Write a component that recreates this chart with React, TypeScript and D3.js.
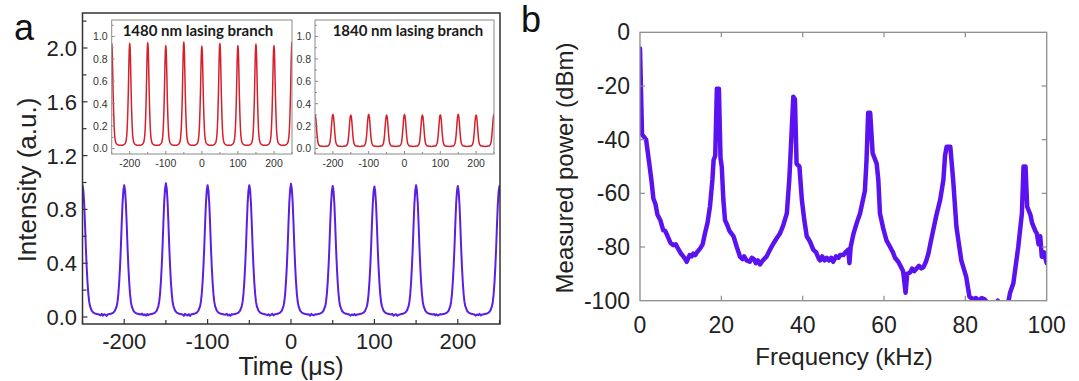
import React from "react";
import * as d3 from "d3";

// ---------- Panel a data ----------
const timeTicks = [-200, -100, 0, 100, 200];
const timeMinorTicks = [-250, -150, -50, 50, 150, 250];
const intensityTicks = [0, 0.4, 0.8, 1.2, 1.6, 2.0];
const intensityMinorTicks = [0.2, 0.6, 1.0, 1.4, 1.8, 2.2];
const insetYTicks = [0, 0.2, 0.4, 0.6, 0.8, 1.0];

const pulseCenters = [-250, -200, -150, -100, -50, 0, 50, 100, 150, 200, 250];
const mainPeakHeights = [0.98, 0.98, 0.994, 0.98, 0.98, 0.99, 0.974, 0.97, 0.98, 0.974, 0.974];
const inset1480Heights = [0.94, 0.94, 0.947, 0.92, 0.95, 0.915, 0.94, 0.92, 0.934, 0.92, 0.95];
const inset1840Heights = [0.3, 0.305, 0.3, 0.305, 0.3, 0.305, 0.3, 0.302, 0.305, 0.3, 0.305];

// pulse profile (offset in µs -> fraction of peak above baseline)
const pulseOffsets = [-20, -16, -13, -11, -9, -8, -7, -6, -5, -4, -3, -2, -1, 0, 1, 2, 3, 4, 5, 6, 7, 8, 9, 11, 13, 16, 20];
const mainPulseShape = [0, 0.006, 0.015, 0.03, 0.065, 0.1, 0.16, 0.25, 0.37, 0.52, 0.7, 0.86, 0.96, 1, 0.96, 0.86, 0.7, 0.52, 0.37, 0.25, 0.16, 0.1, 0.065, 0.03, 0.015, 0.006, 0];
const inset1480Shape = [0, 0.006, 0.015, 0.03, 0.07, 0.11, 0.17, 0.26, 0.37, 0.51, 0.68, 0.85, 0.96, 1, 0.96, 0.85, 0.68, 0.51, 0.37, 0.26, 0.17, 0.11, 0.07, 0.03, 0.015, 0.006, 0];
const inset1840Shape = [0, 0.005, 0.015, 0.04, 0.09, 0.14, 0.22, 0.33, 0.47, 0.62, 0.78, 0.9, 0.97, 1, 0.97, 0.9, 0.78, 0.62, 0.47, 0.33, 0.22, 0.14, 0.09, 0.04, 0.015, 0.005, 0];

const gapOffsets = [21.5, 23, 24.5, 26, 27.5, 29];
const mainBaseline = 0.018;
const mainBaselineNoise = [0.012, 0.024, 0.01, 0.021, 0.016, 0.008, 0.025, 0.013, 0.02, 0.01, 0.022, 0.014, 0.009, 0.024, 0.015, 0.011, 0.021, 0.008, 0.017, 0.023, 0.011, 0.019, 0.009, 0.022, 0.014, 0.021, 0.01, 0.016, 0.024, 0.011, 0.02, 0.009, 0.023, 0.015, 0.012, 0.021, 0.01, 0.019, 0.013, 0.022, 0.012, 0.018, 0.024, 0.01, 0.017, 0.021, 0.009, 0.015, 0.023, 0.012, 0.02, 0.011, 0.016, 0.022, 0.01, 0.019, 0.013, 0.024, 0.011, 0.018];
const inset1480Baseline = [0.03, 0.029, 0.028, 0.028, 0.029, 0.03];
const inset1840Baseline = [0.02, 0.019, 0.018, 0.018, 0.019, 0.02];

// ---------- Panel b data ----------
const freqTicks = [0, 20, 40, 60, 80, 100];
const powerTicks = [0, -20, -40, -60, -80, -100];
const freqKHz = [
  0, 0.5, 1.5, 2.2, 2.8, 3.3, 3.8, 4.3, 5, 5.7, 6.2, 6.8, 7.5, 8.2, 8.8, 9.5, 10.1, 10.7, 11.1, 11.5, 11.9, 12.2, 12.7, 13.1, 13.6, 14, 14.8, 15.4, 16, 16.6, 17.2,
  17.8, 18.1, 18.5, 18.9, 19.4, 19.8, 20.1, 20.5,
  20.9, 21.5, 22, 23, 23.8, 24.6, 25.2, 25.6, 26.2, 27, 27.5, 28, 28.5, 29, 29.5, 30.2, 31.1, 31.8, 32.3, 32.8, 33.5, 34.4, 35.2, 36.1,
  36.7, 37, 37.7, 38.1, 38.5, 39.2, 39.8,
  40.4, 41, 41.8, 42.6, 43.3, 44, 44.3, 44.8, 45.4, 45.9, 46.5, 47, 47.5, 48.2, 48.8, 49.2, 50, 50.5, 51.2, 51.5, 51.8, 52.5, 53.3, 54.1, 55.3,
  55.7, 56.1, 56.6, 57.2, 58.2, 58.6,
  59, 59.8, 60.6, 61.5, 62.2, 62.7, 63.5, 64.2, 64.7, 65.3, 65.7, 66.4, 66.9, 67.4, 68, 68.6, 69.2, 69.7, 70.3, 70.9, 71.5, 72.1, 72.9, 73.8, 74.6,
  75, 75.4, 76.3, 77, 77.8, 79, 80.2, 81, 81.9, 82.6, 83.3, 84, 84.7, 85.3, 86.5, 88, 89, 90.5, 91, 91.8, 93, 93.9,
  94.3, 94.8, 95.2, 96, 96.4, 97.2, 97.6, 98, 98.4, 98.8, 99.3, 100,
];
const powerDBm = [
  -6, -38, -40, -48, -55, -62, -64, -68, -70, -73.7, -74, -76, -78.5, -79.3, -79, -81, -82.5, -83.6, -84.5, -85.5, -84, -83, -83.5, -82.5, -83, -82, -80.5, -79, -74.8, -71, -65,
  -55, -47.6, -46, -21, -21, -47, -50, -62.5,
  -70, -72, -74, -76, -80, -83.6, -84.5, -83.5, -85, -85.5, -84, -84.5, -86, -85, -86.5, -85, -83.6, -81.5, -80, -78.7, -77, -75, -72, -67.5,
  -55, -46, -24, -25, -49, -50, -62.5,
  -70, -76, -78, -81, -82, -84.5, -85, -83.5, -85, -84, -85, -84, -85.5, -83.5, -84, -83, -83, -82, -81, -86, -80, -75, -71, -67.5, -59,
  -47.6, -30, -30, -45, -49, -55,
  -67.5, -73, -77.5, -80, -82, -84, -85.5, -87.5, -89, -97, -90, -89.5, -88, -89, -88, -87, -88, -87.5, -85.5, -82.5, -78, -73.7, -68, -62.5, -55,
  -46, -42.6, -42.6, -55, -72.4, -85, -91, -98.5, -99.5, -99, -100, -99, -99.5, -100.5, -104, -100, -104, -101, -97, -93.5, -80, -67.5,
  -50, -50, -65, -68, -71, -74, -75, -79, -76, -83.6, -82, -86,
];

// ---------- helpers ----------
function pulseTrain(heights: number[], shape: number[], base: number, noise: number[]) {
  const pts: [number, number][] = [];
  pulseCenters.forEach((c, i) => {
    pulseOffsets.forEach((o, j) => pts.push([c + o, base + (heights[i] - base) * shape[j]]));
    if (i < pulseCenters.length - 1) {
      gapOffsets.forEach((g, k) => pts.push([c + g, noise[(i * gapOffsets.length + k) % noise.length]]));
    }
  });
  return pts;
}

const FONT = "'Liberation Sans', Arial, Helvetica, sans-serif";

const W = 1079;
const H = 381;

// panel a geometry
const A = { left: 82.5, right: 500, top: 13, bottom: 324 };
const xA = d3.scaleLinear().domain([-250, 250]).range([82.5, 499.5]);
const yA = d3.scaleLinear().domain([0, 2]).range([317, 48]);

const I1 = { left: 111.7, right: 292, top: 20, bottom: 154, cx: 198 };
const I2 = { left: 315, right: 494, top: 20, bottom: 154, cx: 408 };
const xI1 = d3.scaleLinear().domain([-250, 250]).range([I1.left, I1.right]);
const xI2 = d3.scaleLinear().domain([-250, 250]).range([I2.left, I2.right]);
const yI = d3.scaleLinear().domain([0, 1]).range([148.5, 36.5]);

// panel b geometry
const B = { left: 640, right: 1046.7, top: 32.3, bottom: 300.7 };
const xB = d3.scaleLinear().domain([0, 100]).range([B.left, B.right]);
const yB = d3.scaleLinear().domain([-100, 0]).range([B.bottom, B.top]);

function Inset({ xs, box, data, title, id }: any) {
  const line = d3.line<[number, number]>().x((d) => xs(d[0])).y((d) => yI(d[1])).curve(d3.curveMonotoneX);
  const minorY = [0.1, 0.3, 0.5, 0.7, 0.9, 1.1];
  return (
    <g>
      <rect x={box.left} y={box.top} width={box.right - box.left} height={box.bottom - box.top} fill="#fff" />
      <clipPath id={id}>
        <rect x={box.left} y={box.top} width={box.right - box.left} height={box.bottom - box.top} />
      </clipPath>
      <path d={line(data) || ""} fill="none" stroke="#d4202a" strokeWidth={1.5} clipPath={`url(#${id})`} />
      <rect x={box.left} y={box.top} width={box.right - box.left} height={box.bottom - box.top} fill="none" stroke="#8a8a8a" strokeWidth={1} />
      {insetYTicks.map((v) => (
        <g key={"y" + v}>
          <line x1={box.left} x2={box.left + 3} y1={yI(v)} y2={yI(v)} stroke="#8a8a8a" />
          <text x={box.left - 4} y={yI(v) + 3.8} fontSize={10.5} textAnchor="end" fill="#333" fontFamily={FONT}>
            {d3.format(".1f")(v)}
          </text>
        </g>
      ))}
      {minorY.map((v) => (
        <line key={"my" + v} x1={box.left} x2={box.left + 2} y1={yI(v)} y2={yI(v)} stroke="#8a8a8a" />
      ))}
      {timeTicks.map((v) => (
        <g key={"x" + v}>
          <line x1={xs(v)} x2={xs(v)} y1={box.bottom} y2={box.bottom - 3} stroke="#8a8a8a" />
          <text x={xs(v)} y={167} fontSize={10.5} textAnchor="middle" fill="#333" fontFamily={FONT}>
            {v}
          </text>
        </g>
      ))}
      {timeMinorTicks.map((v) => (
        <line key={"mx" + v} x1={xs(v)} x2={xs(v)} y1={box.bottom} y2={box.bottom - 2} stroke="#8a8a8a" />
      ))}
      <text x={box.cx} y={36} fontSize={15} fontWeight="bold" textAnchor="middle" fill="#1a1a1a" fontFamily="Lato, 'Open Sans', sans-serif">
        {title}
      </text>
    </g>
  );
}

export default function App() {
  const mainData = pulseTrain(mainPeakHeights, mainPulseShape, mainBaseline, mainBaselineNoise);
  const i1Data = pulseTrain(inset1480Heights, inset1480Shape, 0.03, inset1480Baseline);
  const i2Data = pulseTrain(inset1840Heights, inset1840Shape, 0.02, inset1840Baseline);
  const lineA = d3.line<[number, number]>().x((d) => xA(d[0])).y((d) => yA(d[1]));
  const specPts: [number, number][] = freqKHz.map((f, i) => [f, powerDBm[i]]);
  const lineB = d3.line<[number, number]>().x((d) => xB(d[0])).y((d) => yB(d[1]));

  return (
    <svg width={W} height={H} style={{ position: "absolute", left: 0, top: 0, background: "#fff" }} fontFamily={FONT}>
      <rect x={0} y={0} width={W} height={H} fill="#fff" />
      {/* ---------------- Panel a ---------------- */}
      <text x={14} y={40} fontSize={36} fill="#111">a</text>
      <clipPath id="clipA">
        <rect x={A.left} y={A.top} width={A.right - A.left} height={A.bottom - A.top} />
      </clipPath>
      <path d={lineA(mainData) || ""} fill="none" stroke="#5a1fe2" strokeWidth={2} strokeLinejoin="round" clipPath="url(#clipA)" />
      <rect x={A.left} y={A.top} width={A.right - A.left} height={A.bottom - A.top} fill="none" stroke="#333" strokeWidth={1.5} />
      {intensityTicks.map((v) => (
        <g key={"ya" + v}>
          <line x1={A.left} x2={A.left + 5} y1={yA(v)} y2={yA(v)} stroke="#333" strokeWidth={1.2} />
          <text x={77} y={yA(v) + 8} fontSize={22} textAnchor="end" fill="#222">
            {d3.format(".1f")(v)}
          </text>
        </g>
      ))}
      {intensityMinorTicks.map((v) => (
        <line key={"yam" + v} x1={A.left} x2={A.left + 4} y1={yA(v)} y2={yA(v)} stroke="#333" strokeWidth={1.2} />
      ))}
      {timeTicks.map((v) => (
        <g key={"xa" + v}>
          <line x1={xA(v)} x2={xA(v)} y1={A.bottom} y2={A.bottom - 5} stroke="#333" strokeWidth={1.2} />
          <text x={xA(v)} y={349} fontSize={22} textAnchor="middle" fill="#222">
            {v}
          </text>
        </g>
      ))}
      {timeMinorTicks.map((v) => (
        <line key={"xam" + v} x1={xA(v)} x2={xA(v)} y1={A.bottom} y2={A.bottom - 4} stroke="#333" strokeWidth={1.2} />
      ))}
      <text x={291} y={375} fontSize={25} textAnchor="middle" fill="#222">Time (μs)</text>
      <text transform="translate(36,180) rotate(-90)" fontSize={26} textAnchor="middle" fill="#222">Intensity (a.u.)</text>

      <Inset xs={xI1} box={I1} data={i1Data} title="1480 nm lasing branch" id="clipI1" />
      <Inset xs={xI2} box={I2} data={i2Data} title="1840 nm lasing branch" id="clipI2" />

      {/* ---------------- Panel b ---------------- */}
      <text x={521} y={32} fontSize={36} fill="#111">b</text>
      <clipPath id="clipB">
        <rect x={B.left} y={B.top} width={B.right - B.left} height={B.bottom - B.top} />
      </clipPath>
      <path d={lineB(specPts) || ""} fill="none" stroke="#5b12f0" strokeWidth={4.5} strokeLinejoin="round" strokeLinecap="round" clipPath="url(#clipB)" />
      <rect x={B.left} y={B.top} width={B.right - B.left} height={B.bottom - B.top} fill="none" stroke="#8c8c8c" strokeWidth={1.3} />
      {freqTicks.map((v) => (
        <g key={"xb" + v}>
          {v > 0 && v < 100 && (
            <>
              <line x1={xB(v)} x2={xB(v)} y1={B.bottom} y2={B.bottom - 5} stroke="#8c8c8c" strokeWidth={1.2} />
              <line x1={xB(v)} x2={xB(v)} y1={B.top} y2={B.top + 5} stroke="#8c8c8c" strokeWidth={1.2} />
            </>
          )}
          <text x={xB(v)} y={333} fontSize={23} textAnchor="middle" fill="#222">
            {v}
          </text>
        </g>
      ))}
      {powerTicks.map((v) => (
        <g key={"yb" + v}>
          {v < 0 && v > -100 && (
            <>
              <line x1={B.left} x2={B.left + 5} y1={yB(v)} y2={yB(v)} stroke="#8c8c8c" strokeWidth={1.2} />
              <line x1={B.right} x2={B.right - 5} y1={yB(v)} y2={yB(v)} stroke="#8c8c8c" strokeWidth={1.2} />
            </>
          )}
          <text x={630} y={yB(v) + 8} fontSize={23} textAnchor="end" fill="#222">
            {v}
          </text>
        </g>
      ))}
      <text x={844} y={365} fontSize={24} textAnchor="middle" fill="#222">Frequency (kHz)</text>
      <text transform="translate(573,168) rotate(-90)" fontSize={24} textAnchor="middle" fill="#222">Measured power (dBm)</text>
    </svg>
  );
}
